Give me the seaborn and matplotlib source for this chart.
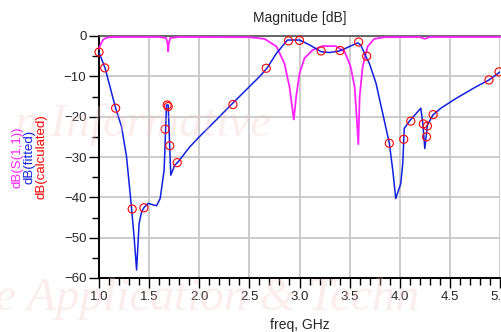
import numpy as np
import pandas as pd
import seaborn as sns
import matplotlib.pyplot as plt
from matplotlib.ticker import MultipleLocator

# S(1,1) magnitude (magenta)
s11_freq = [1.0, 1.02, 1.04, 1.06, 1.1, 1.2, 1.6, 1.67, 1.685, 1.69, 1.695, 1.71, 1.8,
            2.5, 2.65, 2.77, 2.85, 2.9, 2.943, 2.967, 3.0, 3.05, 3.13, 3.23, 3.36, 3.45,
            3.51, 3.55, 3.57, 3.587, 3.6, 3.63, 3.68, 3.746, 3.85, 4.2, 4.25, 4.3, 5.0]
s11_db = [-3.2, -1.8, -1.0, -0.6, -0.3, -0.25, -0.25, -0.5, -2, -3.8, -2, -0.5, -0.25,
          -0.3, -0.7, -2.6, -6.8, -12.6, -20.7, -15, -9.3, -5.5, -3.5, -2.5, -2.5, -3.9,
          -7.6, -12.6, -20, -26.8, -15, -7.6, -2.6, -0.7, -0.3, -0.25, -0.7, -0.25, -0.25]

# fitted curve (blue)
fit_freq = [1.0, 1.06, 1.166, 1.225, 1.275, 1.325, 1.35, 1.375, 1.40, 1.425, 1.45, 1.49,
            1.574, 1.61, 1.65, 1.673, 1.69, 1.716, 1.756, 1.79, 1.905, 2.0, 2.17, 2.30,
            2.6, 2.675, 2.77, 2.88, 3.0, 3.1, 3.216, 3.3, 3.4, 3.5, 3.58, 3.61, 3.66,
            3.697, 3.763, 3.83, 3.896, 3.93, 3.96, 4.01, 4.03, 4.045, 4.1, 4.21, 4.23,
            4.25, 4.276, 4.33, 4.41, 4.56, 4.76, 4.89, 5.0]
fit_db = [-4.1, -7.9, -17.9, -22.5, -30, -42.8, -49.8, -58, -46.5, -43.6, -42.5, -41.5,
          -42.1, -40.3, -33.2, -17.1, -17.1, -34.5, -32, -31.2, -27.5, -25, -20.8, -17.5,
          -10.1, -8, -4.3, -1.0, -1.0, -2.2, -3.9, -4.1, -3.7, -2.6, -1.7, -2.2, -5,
          -6.8, -11.7, -19.2, -26.6, -33.2, -40.3, -36.6, -31.6, -22.9, -21.0, -17.9, -21.7,
          -27.9, -22.1, -19.6, -17.9, -15.5, -12.6, -10.9, -8.9]

# calculated points (red circles)
calc_freq = [1.0, 1.057, 1.166, 1.331, 1.448, 1.66, 1.68, 1.69, 1.706, 1.78, 2.336, 2.668,
             2.89, 3.0, 3.216, 3.405, 3.59, 3.67, 3.896, 4.04, 4.11, 4.235, 4.267, 4.276,
             4.333, 4.89, 4.99]
calc_db = [-4.0, -7.9, -17.9, -42.9, -42.6, -23.1, -17.1, -17.5, -27.2, -31.4, -17.0, -8.0,
           -1.2, -1.1, -3.7, -3.6, -1.5, -5.0, -26.6, -25.6, -21.1, -21.8, -25.0, -22.3,
           -19.5, -10.9, -8.9]

sns.set_style("white")
plt.rcParams['font.family'] = ['Liberation Sans', 'DejaVu Sans']

fig = plt.figure(figsize=(5.01, 3.32), dpi=100)
ax = fig.add_axes([99 / 501, 1 - 278 / 332, 401 / 501, 242 / 332])

# faint watermark
wm = dict(family='Liberation Serif', style='italic', color='#f4c4c4', alpha=0.3, zorder=0)
fig.text(0.03, 0.625, "n Informative", fontsize=34, va='center', ha='left', **wm)
fig.text(-0.01, 0.10, "e Application & Techn", fontsize=34, va='center', ha='left', **wm)

sns.lineplot(x=s11_freq, y=s11_db, ax=ax, color='#ff22ff', lw=1.3, sort=False,
             estimator=None, clip_on=False, zorder=3)
sns.lineplot(x=fit_freq, y=fit_db, ax=ax, color='#1020e0', lw=1.1, sort=False,
             estimator=None, zorder=4)
sns.scatterplot(x=calc_freq, y=calc_db, ax=ax, marker='o', s=34, facecolor='none',
                edgecolor='red', linewidth=0.8, zorder=5, clip_on=False)

ax.set_xlim(1.0, 5.0)
ax.set_ylim(-60, 0)
ax.xaxis.set_major_locator(MultipleLocator(0.5))
ax.xaxis.set_minor_locator(MultipleLocator(0.1))
ax.yaxis.set_major_locator(MultipleLocator(10))
ax.yaxis.set_minor_locator(MultipleLocator(5))
ax.set_xticklabels([f"{v:.1f}" for v in ax.get_xticks()])
ax.grid(True, which='major', color='#c8c8c8', lw=1.3)
ax.set_axisbelow(True)
ax.tick_params(which='both', direction='out', color='black', labelsize=9.5, width=1,
               left=True, bottom=True, pad=2)
ax.tick_params(which='major', length=7)
ax.tick_params(which='minor', length=5)
ax.spines['left'].set_color('black')
ax.spines['bottom'].set_color('black')
ax.spines['left'].set_linewidth(1.4)
ax.spines['bottom'].set_linewidth(1.4)
ax.spines['top'].set_color('#505050')
ax.spines['top'].set_linewidth(1.2)
ax.spines['right'].set_visible(False)

ax.set_title("Magnitude [dB]", fontsize=10, pad=10)
ax.set_xlabel("freq, GHz", fontsize=10, labelpad=11)
ax.set_ylabel("")

ymid = 1 - 157 / 332
fig.text(18 / 501, ymid, "dB(S(1,1))", rotation=90, color='#ff22ff', fontsize=9.5,
         ha='center', va='center')
fig.text(30 / 501, ymid, "dB(fitted)", rotation=90, color='#1020e0', fontsize=9.5,
         ha='center', va='center')
fig.text(42 / 501, ymid, "dB(calculated)", rotation=90, color='red', fontsize=9.5,
         ha='center', va='center')

fig.savefig("out.png", dpi=100)
